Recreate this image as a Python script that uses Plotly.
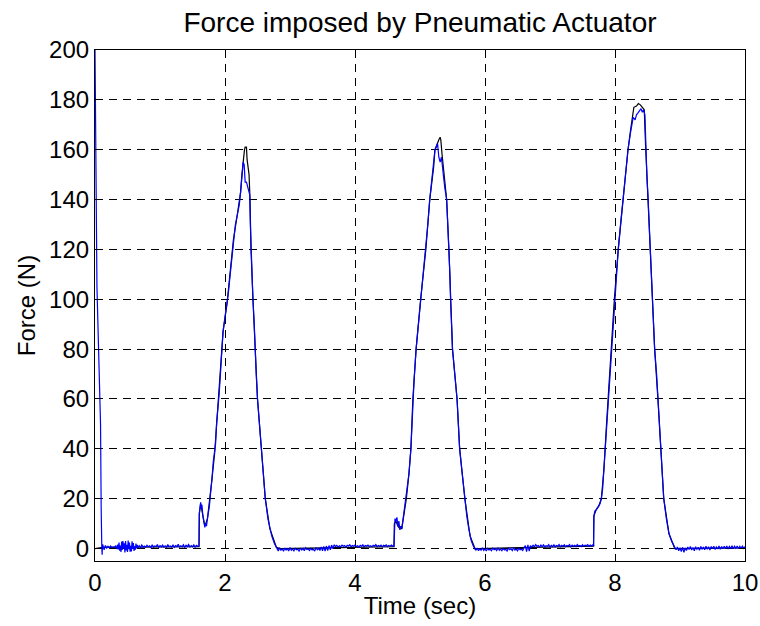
import numpy as np
import plotly.graph_objects as go

# ---------------- data ----------------
# measured force (blue) : key points of the transients
start_t = [0.000, 0.010, 0.030, 0.085, 0.088, 0.095, 0.105, 0.110, 0.115]
start_f = [200, 160, 105, 50, 18, 16, 0, -2.5, 1.5]

# baseline noise segments: (start time, sample step, values)
base1a_f = [1.5, -0.5, 1.2, 0.2, 0.9, 0.3, 1.0, 0.4, 0.7, 0.5, 1.2, -0.2]
base1b_f = [1.6, -0.4, 2.4, -0.9, 1.2, -1.4, 2.8, -0.6, 3.0, 0.2, 2.1, -1.6, 3.0, -0.8,
            1.5, -1.4, 3.2, -0.3, 2.4, -1.3, 1.1, -1.2, 2.9, -0.2, 2.2, -1.0, 0.9, -0.5,
            2.0, 0.1, 1.5, 0.3]
base1c_f = [1.2, 0.4, 1.4, 0.6, 1.0, 0.5, 1.3, 0.7, 1.1, 0.4, 1.5, 0.6, 1.0, 0.8, 1.6, 0.5,
            1.2, 0.7, 1.4, 0.6, 1.1, 0.5, 1.6, 0.7, 1.0, 0.6, 1.5, 0.5, 1.2, 0.8, 1.7, 0.6,
            1.1, 0.7, 1.5, 0.5, 1.3, 0.8, 1.6, 0.6, 1.2, 0.7, 1.5, 0.6, 1.3, 0.9]

peak1_t = [1.600, 1.605, 1.615, 1.625, 1.635, 1.645, 1.660, 1.675, 1.690, 1.700, 1.715,
           1.730, 1.745, 1.760, 1.770, 1.780, 1.800, 1.820, 1.840, 1.855, 1.870, 1.890,
           1.910, 1.930, 1.950, 1.970, 2.000, 2.030, 2.050, 2.080, 2.110, 2.130, 2.160,
           2.190, 2.220, 2.240, 2.260, 2.280, 2.295, 2.310, 2.330, 2.350, 2.380, 2.390,
           2.400, 2.420, 2.430, 2.450, 2.460, 2.480, 2.500, 2.530, 2.560, 2.590, 2.620,
           2.660, 2.690, 2.720, 2.760, 2.790]
peak1_f = [1.0, 14, 17, 18.5, 16, 17.5, 13, 10, 8.5, 10, 9,
           12, 14, 17, 20, 24, 28, 35, 38, 42, 50, 55,
           62, 70, 78, 87, 93, 98, 102, 110, 118, 124, 130,
           134, 138, 143, 150, 155, 154, 147, 147, 145, 142, 130,
           120, 108, 100, 90, 80, 70, 60, 50, 40, 30, 20,
           12, 8, 5, 2, 0.5]

base2_f = [-0.2, -1.0, 0.3, -0.8, 0.0, -1.1, 0.2, -0.6, -0.1, -1.0, 0.4, -0.7, -0.2, -0.9,
           0.1, -0.5, -0.3, -1.0, 0.2, -0.6, 0.0, -0.9, 0.3, -0.4, -0.2, -0.8, 0.1, -0.6,
           -0.3, -1.0, 0.4, -0.5, 0.0, -0.8, 0.6, -0.9, 0.8, -1.0, 1.0, -0.8, 1.2, -0.5,
           1.4, 0.0, 1.5,
           0.8, 1.3, 0.6, 1.1, 0.7, 1.4, 0.9, 1.2, 0.6, 1.3, 1.0, 1.5, 0.7, 1.2, 0.9, 1.4,
           0.8, 1.1, 0.6, 1.3, 0.9, 1.5, 0.7, 1.2, 1.0, 1.4, 0.8, 1.1, 0.7, 1.3, 1.0, 1.6,
           0.8, 1.2, 0.9, 1.4, 0.7, 1.3, 1.0, 1.5, 0.8, 1.2, 0.9, 1.4, 1.0]

peak2_t = [4.600, 4.605, 4.615, 4.630, 4.645, 4.660, 4.675, 4.690, 4.705, 4.720, 4.740,
           4.760, 4.790, 4.810, 4.830, 4.860, 4.880, 4.890, 4.910, 4.940, 4.970, 5.010,
           5.050, 5.090, 5.120, 5.150, 5.180, 5.210, 5.230, 5.250, 5.270, 5.290, 5.310,
           5.330, 5.350, 5.380, 5.410, 5.430, 5.445, 5.460, 5.470, 5.490, 5.500, 5.535,
           5.570, 5.590, 5.610, 5.650, 5.690, 5.720, 5.750, 5.770, 5.790, 5.820, 5.850]
peak2_f = [1.0, 10, 12, 11, 12.5, 9, 11, 7.5, 9, 8, 12,
           15, 20, 25, 30, 40, 52, 60, 68, 80, 88, 100,
           110, 120, 130, 140, 147, 153, 160, 161, 162.5, 157, 155,
           157, 152, 145, 140, 130, 120, 110, 100, 88, 80, 70,
           60, 50, 40, 30, 20, 13, 8, 5, 3, 1, -0.5]

base3_f = [-0.6, 0.2, -0.9, -0.1, -0.7, 0.3, -0.8, -0.2, -1.0, 0.1, -0.6, -0.3, -0.9, 0.2,
           -0.5, -0.1, -0.8, 0.3, -0.7, -0.2, -0.9, 0.0, -0.6, -0.3, -1.0, 0.2, -0.5, -0.1,
           -0.8, 0.3, -0.6, -0.2, -0.9, 0.1, -0.5, -0.3, -0.8, 0.2,
           1.2, -1.2, 1.5, -1.0, 1.2,
           0.6, 1.3, 0.7, 1.6, 0.9, 1.2, 0.6, 1.4, 0.8, 1.5, 0.7, 1.1, 0.9, 1.6, 0.6, 1.3,
           0.8, 1.5, 0.7, 1.2, 1.0, 1.6, 0.7, 1.3, 0.9, 1.5, 0.8, 1.2, 1.0, 1.6, 0.7, 1.4,
           0.9, 1.3, 0.8, 1.6, 1.0, 1.2, 0.8, 1.5, 0.9, 1.3, 1.1, 1.6, 0.9, 1.4, 1.0, 1.5,
           1.2]

peak3_t = [7.670, 7.675, 7.690, 7.710, 7.730, 7.750, 7.770, 7.790, 7.810, 7.830, 7.850,
           7.870, 7.900, 7.920, 7.940, 7.965, 7.990, 8.020, 8.050, 8.085, 8.120, 8.160,
           8.200, 8.240, 8.280, 8.310, 8.330, 8.360, 8.380, 8.400, 8.420, 8.440, 8.460,
           8.475, 8.490, 8.510, 8.525, 8.540, 8.560, 8.580, 8.595, 8.610, 8.640, 8.660,
           8.690, 8.710, 8.730, 8.750, 8.790, 8.830, 8.870, 8.920]
peak3_f = [1.2, 13, 15, 15.5, 16.5, 17, 18, 20, 24, 32, 40,
           50, 62, 72, 80, 90, 100, 110, 120, 130, 140, 150,
           160, 167, 173, 172, 174, 175, 176, 176.5, 175, 176, 174,
           160, 150, 140, 130, 120, 110, 100, 90, 80, 70, 60,
           50, 40, 30, 20, 12, 6, 3, 0]

base4_f = [-0.5, 0.6, -0.9, 0.3, -1.2, 0.5, -1.5, 0.2, -0.8, 0.6, -0.4, 0.8, -0.6, 0.4,
           -0.9, 0.7, -0.3, 0.5, -0.7, 0.8, -0.2, 0.6, -0.5, 0.9, -0.3, 0.7, -0.6, 0.8,
           -0.1, 0.9, -0.4, 0.6, -0.2, 1.0, -0.3, 0.8, -0.1, 0.9, 0.0, 1.0, -0.2, 0.8,
           0.0, 1.1, -0.1, 0.9, 0.1, 1.0, -0.1, 0.9, 0.2, 1.0, 0.1, 0.8]

# reference force (black): smooth path, differs only near the peaks
ref_t = [0.0, 0.12, 1.60, 1.605, 1.625, 1.66, 1.69, 1.73, 1.77, 1.80, 1.84, 1.87, 1.91,
         1.97, 2.03, 2.08, 2.13, 2.19, 2.24, 2.26, 2.28, 2.30, 2.31, 2.33, 2.34, 2.36,
         2.37, 2.385, 2.40, 2.43, 2.46, 2.50, 2.56, 2.62, 2.69, 2.79, 2.85,
         4.60, 4.605, 4.63, 4.66, 4.69, 4.72, 4.76, 4.79, 4.83, 4.86, 4.89, 4.94, 5.01,
         5.09, 5.15, 5.21, 5.23, 5.27, 5.29, 5.31, 5.32, 5.34, 5.36, 5.38, 5.41, 5.445,
         5.47, 5.50, 5.57, 5.61, 5.69, 5.77, 5.85, 5.90,
         7.67, 7.675, 7.71, 7.75, 7.79, 7.83, 7.87, 7.94, 7.99, 8.05, 8.12, 8.20, 8.24,
         8.27, 8.29, 8.33, 8.36, 8.39, 8.42, 8.45, 8.47, 8.49, 8.51, 8.54, 8.58, 8.61,
         8.66, 8.71, 8.75, 8.83, 8.92, 10.0]
ref_f = [0.0, 0.5, 0.8, 14, 18, 13, 9, 12, 20, 28, 38, 50, 62,
         87, 98, 110, 124, 134, 143, 150, 157, 160, 161, 161, 156, 153,
         150, 140, 120, 100, 80, 60, 40, 20, 8, 0.5, 0.0,
         0.8, 10, 11, 9, 8, 8, 15, 20, 30, 40, 60, 80, 100,
         120, 140, 153, 160, 163, 164, 165, 164, 158, 153, 146, 140, 120,
         100, 80, 60, 40, 20, 5, -0.3, 0.0,
         1.0, 13, 15.5, 17, 20, 32, 50, 80, 100, 120, 140, 160, 168,
         174, 177, 177.5, 178.5, 178, 177, 176, 162, 150, 140, 120, 100, 80,
         60, 40, 20, 6, 0.0, 0.3]

title_text = "Force imposed by Pneumatic Actuator"
x_label = "Time (sec)"
y_label = "Force (N)"
x_ticks = [0, 2, 4, 6, 8, 10]
y_ticks = [0, 20, 40, 60, 80, 100, 120, 140, 160, 180, 200]


def seg(t0, dt, vals):
    return [t0 + dt * i for i in range(len(vals))], list(vals)


parts = [
    (start_t, start_f),
    seg(0.12, 0.02, base1a_f),
    seg(0.35, 0.01, base1b_f),
    seg(0.68, 0.02, base1c_f),
    (peak1_t, peak1_f),
    seg(2.80, 0.02, base2_f),
    (peak2_t, peak2_f),
    seg(5.86, 0.02, base3_f),
    (peak3_t, peak3_f),
    seg(8.94, 0.02, base4_f),
]
meas_t, meas_f = [], []
for tt, ff in parts:
    meas_t += list(tt)
    meas_f += list(ff)

fig = go.Figure()
fig.add_trace(go.Scatter(x=ref_t, y=ref_f, mode="lines",
                         line=dict(color="#000000", width=1.2), showlegend=False))
fig.add_trace(go.Scatter(x=meas_t, y=meas_f, mode="lines",
                         line=dict(color="#0000ff", width=1.2), showlegend=False))

font_family = "Liberation Sans, Arial, sans-serif"
axis_common = dict(
    showline=True, linecolor="black", linewidth=1.2, mirror="ticks",
    ticks="inside", ticklen=6, tickcolor="black", tickwidth=1,
    showgrid=True, gridcolor="#000000", gridwidth=1, griddash="8px,6px",
    zeroline=False, automargin=False,
    tickfont=dict(family=font_family, size=24, color="black"),
)

fig.update_layout(
    width=760, height=626,
    margin=dict(l=95, r=15, t=50, b=65),
    paper_bgcolor="white", plot_bgcolor="white",
    title=dict(text=title_text, x=0.5526, xanchor="center", y=0.965, yanchor="middle",
               font=dict(family=font_family, size=28, color="black")),
    xaxis=dict(range=[0, 10], tickvals=x_ticks, ticktext=[str(v) for v in x_ticks],
               title=dict(text=x_label, standoff=2,
                          font=dict(family=font_family, size=24, color="black")),
               **axis_common),
    yaxis=dict(range=[-5, 200], tickvals=y_ticks, ticktext=[str(v) for v in y_ticks],
               title=dict(text=y_label, standoff=6,
                          font=dict(family=font_family, size=24, color="black")),
               **axis_common),
)

fig.write_html("out.html")
